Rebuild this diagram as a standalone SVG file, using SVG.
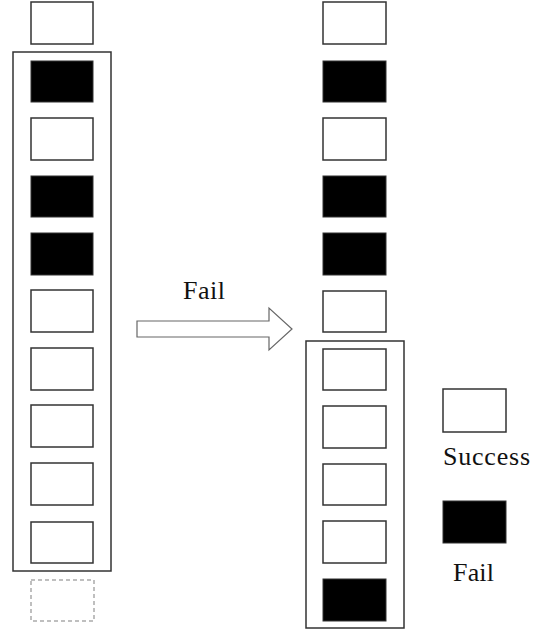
<svg xmlns="http://www.w3.org/2000/svg" width="539" height="632" viewBox="0 0 539 632">
<style>
.w{fill:#fff;stroke:#333;stroke-width:1.5}
.b{fill:#000;stroke:#333;stroke-width:1}
.f{fill:none;stroke:#333;stroke-width:1.5}
.d{fill:none;stroke:#aaa;stroke-width:1.5;stroke-dasharray:4,3}
.t{font-family:"Liberation Serif",serif;font-size:26px;fill:#111}
</style>
<rect width="539" height="632" fill="#fff"/>
<g id="left">
<rect class="w" x="31" y="2" width="62" height="42"/>
<rect class="f" x="13" y="52" width="98" height="519"/>
<rect class="b" x="31" y="61" width="62" height="41"/>
<rect class="w" x="31" y="118" width="62" height="42"/>
<rect class="b" x="31" y="176" width="62" height="41"/>
<rect class="b" x="31" y="233" width="62" height="42"/>
<rect class="w" x="31" y="290" width="62" height="42"/>
<rect class="w" x="31" y="348" width="62" height="42"/>
<rect class="w" x="31" y="405" width="62" height="42"/>
<rect class="w" x="31" y="463" width="62" height="42"/>
<rect class="w" x="31" y="522" width="62" height="41"/>
<rect class="d" x="31" y="580" width="63" height="41"/>
</g>
<g id="right">
<rect class="w" x="323" y="2" width="63" height="42"/>
<rect class="b" x="323" y="61" width="63" height="41"/>
<rect class="w" x="323" y="118" width="63" height="42"/>
<rect class="b" x="323" y="176" width="63" height="41"/>
<rect class="b" x="323" y="233" width="63" height="42"/>
<rect class="w" x="323" y="291" width="63" height="41"/>
<rect class="f" x="306" y="341" width="98" height="287"/>
<rect class="w" x="323" y="349" width="63" height="41"/>
<rect class="w" x="323" y="406" width="63" height="42"/>
<rect class="w" x="323" y="464" width="63" height="41"/>
<rect class="w" x="323" y="521" width="63" height="42"/>
<rect class="b" x="323" y="579" width="63" height="42"/>
</g>
<g id="connectors">
<path d="M137,321 H269 V308 L292,329 L269,350 V337 H137 Z" fill="#fff" stroke="#666" stroke-width="1.2"/>
<text class="t" x="183" y="299" textLength="42">Fail</text>
</g>
<g id="legend">
<rect class="w" x="443" y="389" width="63" height="43"/>
<text class="t" x="443" y="465" textLength="87">Success</text>
<rect class="b" x="443" y="501" width="63" height="42"/>
<text class="t" x="453" y="581" textLength="41">Fail</text>
</g>
</svg>
